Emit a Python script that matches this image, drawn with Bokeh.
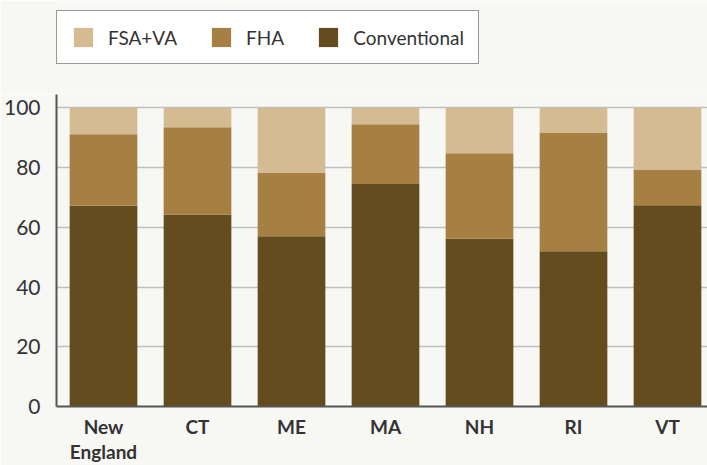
from bokeh.plotting import figure
from bokeh.layouts import column
from bokeh.models import ColumnDataSource, Range1d, FixedTicker, Legend, LegendItem
from bokeh.embed import file_html
from bokeh.resources import INLINE

categories = ["New\nEngland", "CT", "ME", "MA", "NH", "RI", "VT"]
conventional = [67.2, 64.3, 57.0, 74.5, 56.2, 52.0, 67.4]
fha = [24.0, 29.2, 21.2, 20.0, 28.6, 39.8, 12.0]
fsa_va = [8.8, 6.5, 21.8, 5.5, 15.2, 8.2, 20.6]
y_ticks = [0, 20, 40, 60, 80, 100]
series_names = ["FSA+VA", "FHA", "Conventional"]

BG = "#f7f7f3"
C_DARK = "#654c1f"
C_MID = "#a68042"
C_LIGHT = "#d5bb91"
TXT = "#333333"
FONT = "Lato"

xs = [i + 0.5 for i in range(len(categories))]
source = ColumnDataSource(dict(x=xs, conv=conventional, fha=fha, fsa=fsa_va))

# ---- legend strip (its own bars lie outside its ranges; only the legend shows) ----
leg = figure(width=707, height=94, output_backend="svg", toolbar_location=None,
             x_range=Range1d(100, 807), y_range=Range1d(1000, 1094),
             x_axis_type=None, y_axis_type=None,
             min_border_left=56, min_border_right=0, min_border_top=0, min_border_bottom=0)
leg.background_fill_color = BG
leg.border_fill_color = BG
leg.outline_line_color = None
leg.grid.visible = False
lr = leg.vbar_stack(["conv", "fha", "fsa"], x="x", width=0.72,
                    color=[C_DARK, C_MID, C_LIGHT], line_width=0, source=source)
legend = Legend(items=[
    LegendItem(label=series_names[0], renderers=[lr[2]]),
    LegendItem(label=series_names[1], renderers=[lr[1]]),
    LegendItem(label=series_names[2], renderers=[lr[0]]),
], orientation="horizontal", location=(0, 30))
legend.glyph_width = 24
legend.glyph_height = 24
legend.label_standoff = 13
legend.spacing = 32
legend.padding = 14
legend.margin = 0
legend.label_text_font = FONT
legend.label_text_font_size = "19px"
legend.label_text_color = TXT
legend.background_fill_color = "white"
legend.background_fill_alpha = 1
legend.border_line_color = "#333333"
legend.border_line_width = 1.5
leg.add_layout(legend, "center")

# ---- main chart ----
p = figure(width=707, height=371, output_backend="svg", toolbar_location=None,
           x_range=Range1d(0, 651 / 94), y_range=Range1d(0, 104.5),
           min_border_left=56, min_border_right=0, min_border_top=0, min_border_bottom=58)
p.background_fill_color = BG
p.border_fill_color = BG
p.outline_line_color = None

rs = p.vbar_stack(["conv", "fha", "fsa"], x="x", width=0.72,
                  color=[C_DARK, C_MID, C_LIGHT], line_width=0, source=source)

p.xgrid.visible = False
p.ygrid.grid_line_color = "#bfbfbf"
p.ygrid.grid_line_width = 1.5
p.ygrid.level = "underlay"

p.yaxis.ticker = FixedTicker(ticks=y_ticks)
p.yaxis.major_tick_line_color = None
p.yaxis.minor_tick_line_color = None
p.yaxis.axis_line_color = "#555555"
p.yaxis.axis_line_width = 2
p.yaxis.major_label_text_font = FONT
p.yaxis.major_label_text_font_size = "21px"
p.yaxis.major_label_text_color = TXT
p.yaxis.major_label_standoff = 10

p.xaxis.ticker = FixedTicker(ticks=xs)
p.xaxis.major_label_overrides = {x: c for x, c in zip(xs, categories)}
p.xaxis.major_tick_line_color = None
p.xaxis.minor_tick_line_color = None
p.xaxis.major_tick_out = 0
p.xaxis.major_tick_in = 0
p.xaxis.axis_line_color = "#555555"
p.xaxis.axis_line_width = 2
p.xaxis.major_label_text_font = FONT
p.xaxis.major_label_text_font_style = "bold"
p.xaxis.major_label_text_font_size = "19px"
p.xaxis.major_label_text_line_height = 1.1
p.xaxis.major_label_text_color = TXT
p.xaxis.major_label_standoff = 8

layout = column(leg, p, spacing=0)
open("out.html", "w").write(file_html(layout, INLINE))
